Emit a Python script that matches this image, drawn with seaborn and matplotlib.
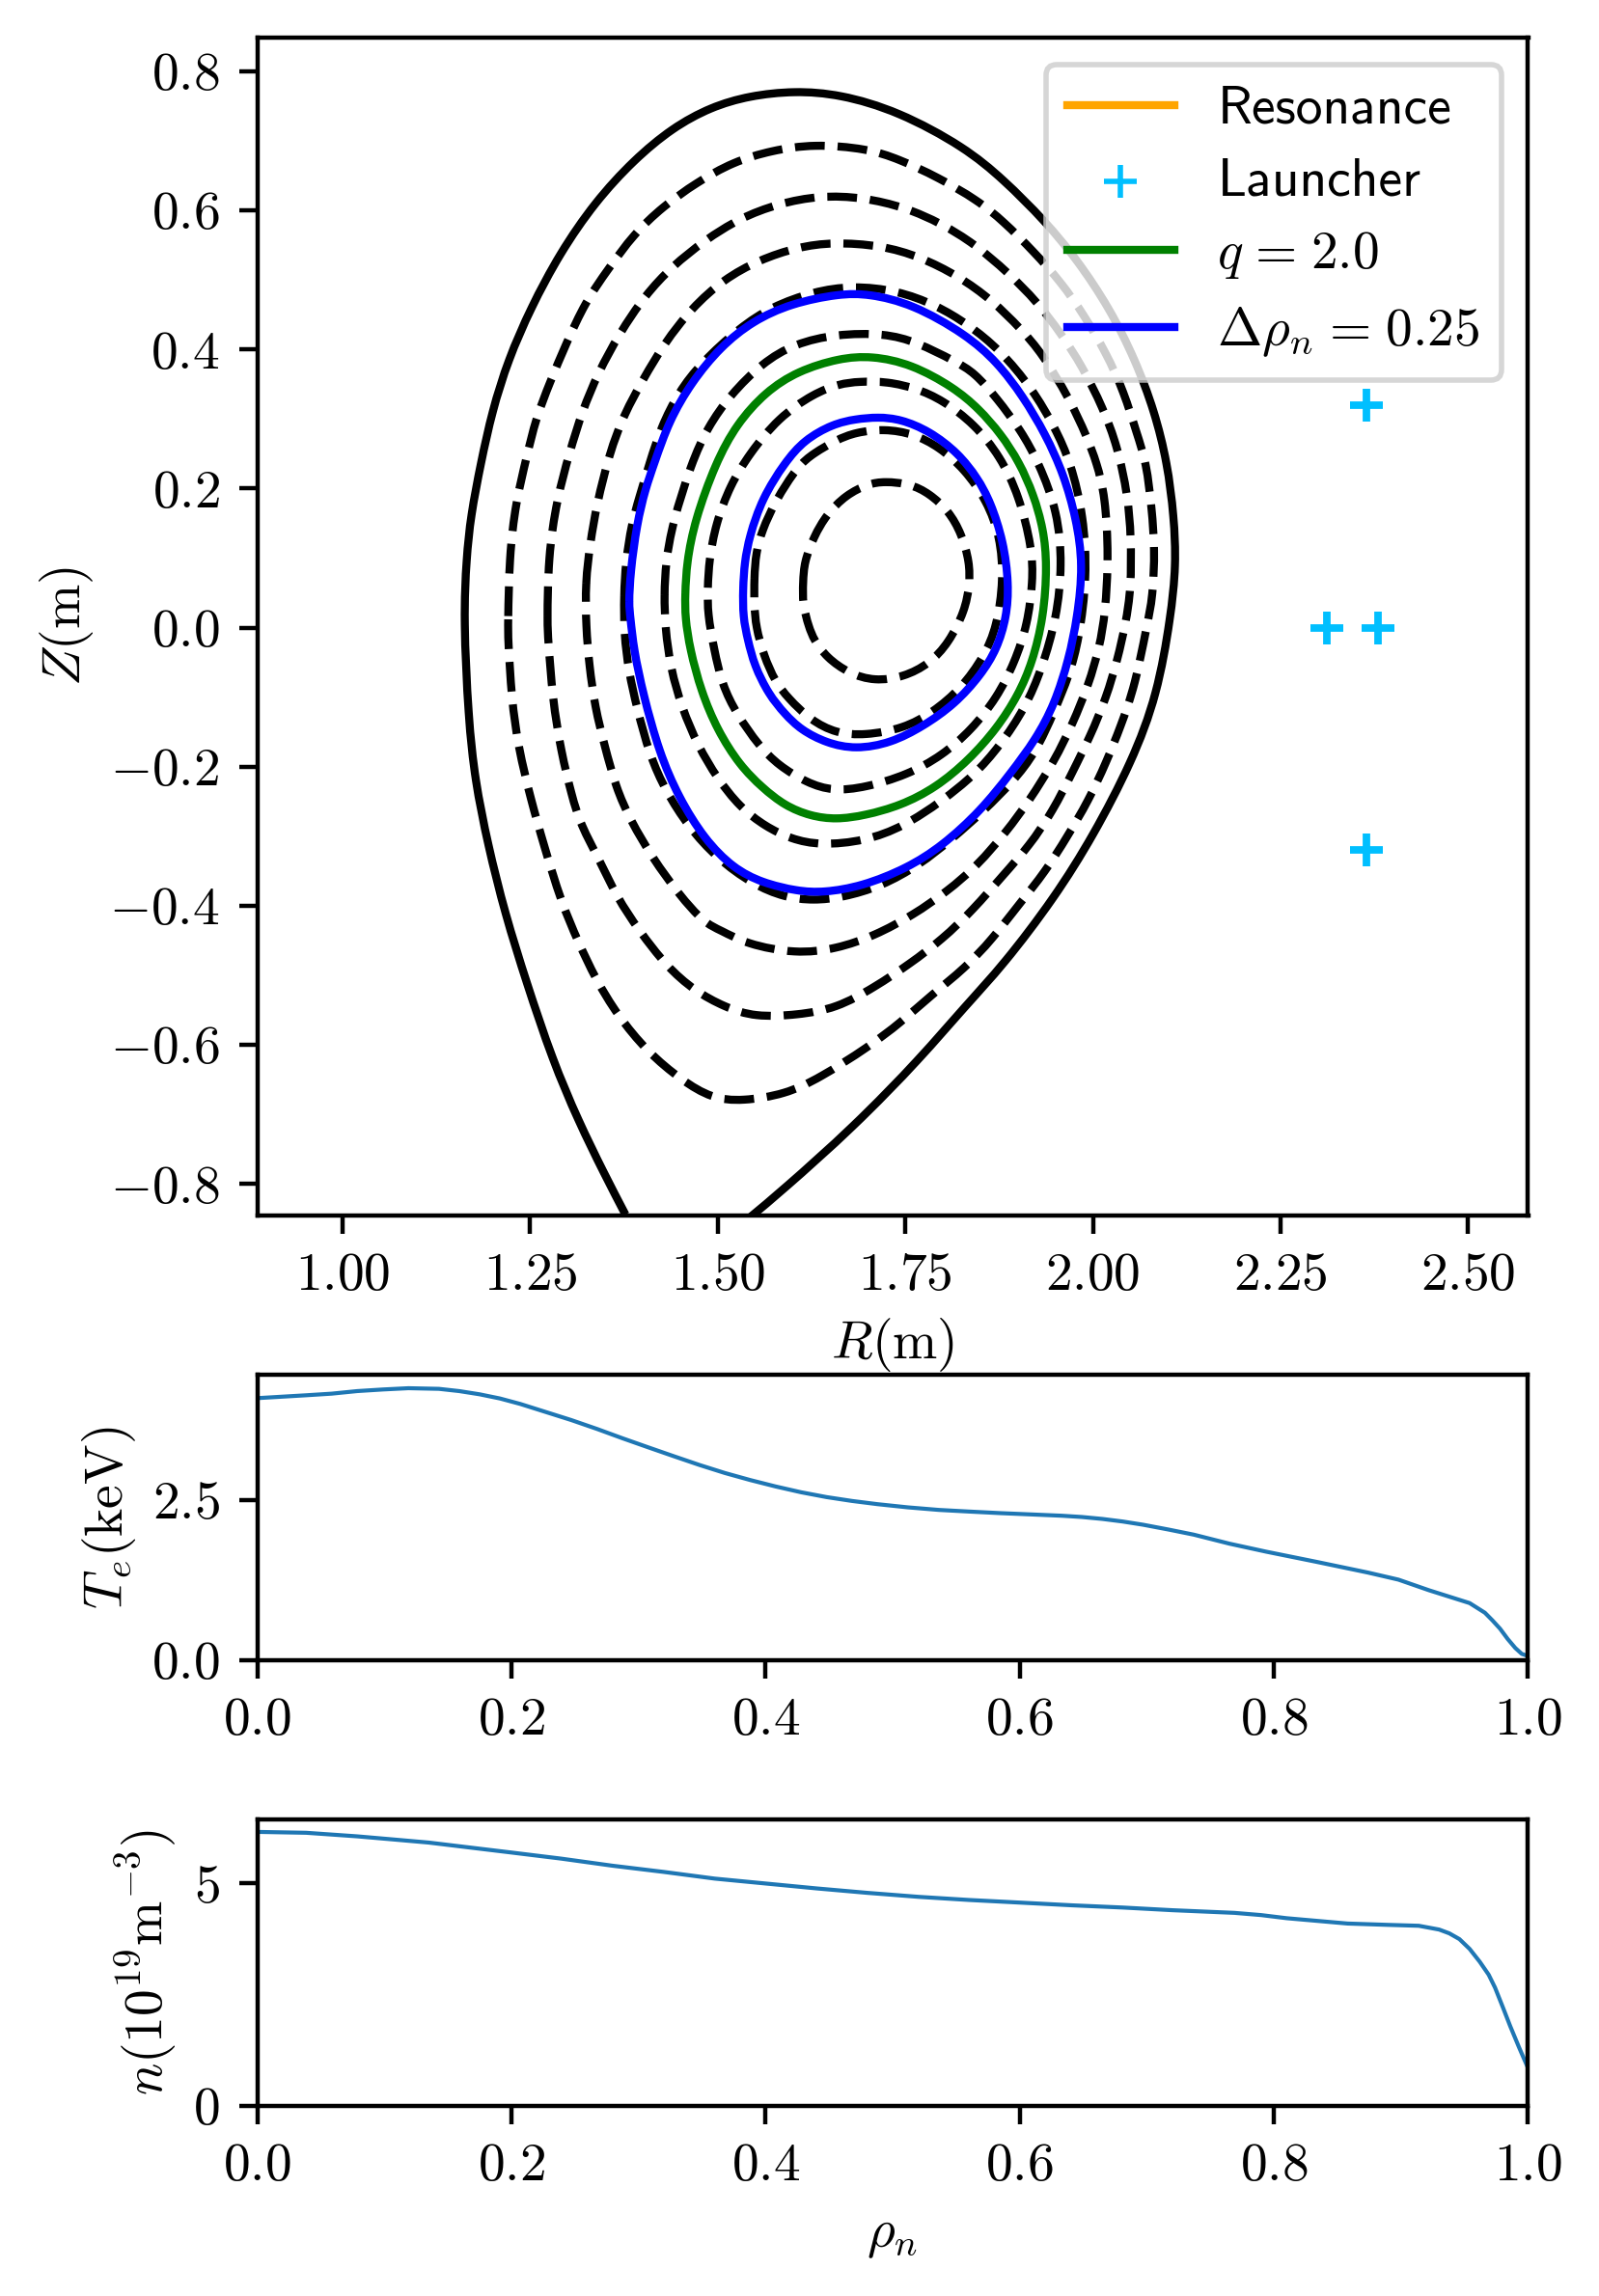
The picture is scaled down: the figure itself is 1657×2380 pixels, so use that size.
import matplotlib
matplotlib.use('Agg')

import matplotlib.pyplot as plt
import seaborn as sns
import numpy as np
from matplotlib.patches import PathPatch
from matplotlib.path import Path

plt.rcParams['font.family'] = ['cmr10', 'DejaVu Sans']
plt.rcParams['mathtext.fontset'] = 'cm'
plt.rcParams['axes.formatter.use_mathtext'] = True
plt.rcParams['font.size'] = 10

# flux surfaces, (R, Z) in metres
separatrix = [(1.404, -0.9), (1.3772, -0.8446), (1.3485, -0.785), (1.314, -0.709), (1.2796, -0.6215), (1.2451, -0.5105),
              (1.2164, -0.4113), (1.1935, -0.312), (1.1762, -0.2186), (1.1676, -0.131), (1.161, 0.015), (1.165, 0.1),
              (1.1705, 0.16), (1.1842, 0.2372), (1.1992, 0.3113), (1.2206, 0.3854), (1.2506, 0.4595), (1.2892, 0.5382),
              (1.3363, 0.6122), (1.3878, 0.6724), (1.4392, 0.7187), (1.4907, 0.7488), (1.5421, 0.765), (1.6021, 0.772),
              (1.6621, 0.7673), (1.74, 0.743), (1.8292, 0.6909), (1.8806, 0.6447), (1.9364, 0.5845), (1.9792, 0.5289),
              (2.0221, 0.4595), (2.0564, 0.3854), (2.0821, 0.3113), (2.0992, 0.2372), (2.108, 0.16), (2.111, 0.09),
              (2.1036, 0.015), (2.086, -0.096), (2.052, -0.193), (2.0, -0.30), (1.949, -0.388), (1.8807, -0.485),
              (1.829, -0.545), (1.771, -0.618), (1.681, -0.718), (1.584, -0.811), (1.5465, -0.8446), (1.485, -0.9)]

surface_1 = [(1.2204, 0.003), (1.222, 0.102), (1.2305, 0.18), (1.2455, 0.2465), (1.2571, 0.2997), (1.2763, 0.353),
             (1.2978, 0.4085), (1.3235, 0.4687), (1.3535, 0.515), (1.3878, 0.5659), (1.4264, 0.6053), (1.4714, 0.64),
             (1.5207, 0.6701), (1.5721, 0.6863), (1.6278, 0.6956), (1.699, 0.689), (1.741, 0.674), (1.793, 0.648),
             (1.8463, 0.6146), (1.8806, 0.5845), (1.9214, 0.5405), (1.9578, 0.4965), (1.9878, 0.4502), (2.0178, 0.3947),
             (2.0414, 0.3391), (2.0585, 0.279), (2.0714, 0.2372), (2.0785, 0.17), (2.0825, 0.114), (2.08, 0.044),
             (2.0715, 0.001), (2.0565, -0.082), (2.037, -0.142), (2.018, -0.193), (1.994, -0.249), (1.966, -0.30),
             (1.9365, -0.351), (1.902, -0.397), (1.8657, -0.448), (1.829, -0.49), (1.786, -0.527), (1.7435, -0.568),
             (1.7007, -0.603), (1.635, -0.648), (1.59, -0.671), (1.532, -0.681), (1.492, -0.677), (1.452, -0.651),
             (1.406, -0.61), (1.366, -0.557), (1.337, -0.505), (1.314, -0.452), (1.291, -0.394), (1.268, -0.312),
             (1.251, -0.248), (1.234, -0.172), (1.225, -0.102), (1.2204, -0.014)]

surface_2 = [(1.2727, 0.003), (1.2738, 0.102), (1.2853, 0.184), (1.3021, 0.2511), (1.3192, 0.3113), (1.3406, 0.3669),
             (1.3685, 0.4224), (1.4028, 0.478), (1.4392, 0.5197), (1.4821, 0.5567), (1.5292, 0.589), (1.5807, 0.6099),
             (1.6364, 0.6215), (1.6929, 0.619), (1.7503, 0.6044), (1.7983, 0.581), (1.8421, 0.5521), (1.8871, 0.5104),
             (1.9256, 0.4687), (1.9578, 0.4224), (1.9857, 0.3761), (2.0135, 0.3159), (2.0328, 0.2604), (2.0465, 0.19),
             (2.0509, 0.1314), (2.0509, 0.0555), (2.0436, 0.006), (2.033, -0.045), (2.018, -0.1), (1.9965, -0.156),
             (1.973, -0.207), (1.947, -0.263), (1.915, -0.314), (1.881, -0.355), (1.84, -0.406), (1.7993, -0.448),
             (1.7564, -0.483), (1.709, -0.517), (1.658, -0.5475), (1.606, -0.557), (1.5494, -0.56), (1.5092, -0.5456),
             (1.469, -0.5222), (1.4317, -0.4872), (1.3944, -0.4346), (1.3657, -0.388), (1.3427, -0.335), (1.3169, -0.283),
             (1.3054, -0.2419), (1.291, -0.178), (1.2796, -0.102), (1.2738, -0.014)]

surface_3 = [(1.3235, 0.066), (1.3299, 0.1215), (1.3385, 0.177), (1.3556, 0.2511), (1.3749, 0.3067), (1.4006, 0.3576),
             (1.4285, 0.4085), (1.4649, 0.4595), (1.5078, 0.5011), (1.555, 0.5289), (1.6064, 0.5474), (1.6536, 0.5544),
             (1.7178, 0.5498), (1.7693, 0.5336), (1.8207, 0.5058), (1.8656, 0.471), (1.9042, 0.4294), (1.9321, 0.3947),
             (1.9685, 0.3298), (1.9921, 0.2743), (2.005, 0.2372), (2.0164, 0.1898), (2.021, 0.1022), (2.0164, 0.0204),
             (2.009, -0.027), (1.9943, -0.082), (1.973, -0.138), (1.949, -0.191), (1.915, -0.249), (1.885, -0.293),
             (1.846, -0.342), (1.806, -0.379), (1.7607, -0.413), (1.709, -0.443), (1.658, -0.462), (1.604, -0.469),
             (1.5379, -0.455), (1.5034, -0.4346), (1.482, -0.425), (1.4478, -0.383), (1.4135, -0.332), (1.3835, -0.277),
             (1.3642, -0.23), (1.3492, -0.17), (1.3363, -0.1146), (1.3286, -0.054), (1.3243, 0.001)]

surface_4 = [(1.3749, 0.0474), (1.3771, 0.0937), (1.385, 0.149), (1.395, 0.1863), (1.4092, 0.2372), (1.4242, 0.2882),
             (1.4478, 0.3391), (1.4778, 0.3808), (1.5292, 0.4317), (1.5721, 0.4618), (1.6278, 0.4835), (1.6793, 0.4919),
             (1.7392, 0.485), (1.7907, 0.4641), (1.8336, 0.4363), (1.8763, 0.3993), (1.9192, 0.3437), (1.9492, 0.2882),
             (1.9706, 0.2372), (1.9877, 0.1606), (1.9923, 0.073), (1.9814, -0.017), (1.9686, -0.068), (1.949, -0.119),
             (1.9236, -0.18), (1.8936, -0.221), (1.855, -0.263), (1.812, -0.304), (1.769, -0.341), (1.718, -0.372),
             (1.666, -0.388), (1.6278, -0.3924), (1.5892, -0.388), (1.5464, -0.369), (1.4992, -0.332), (1.4606, -0.286),
             (1.4306, -0.235), (1.4092, -0.184), (1.392, -0.1146), (1.3813, -0.0637), (1.3749, -0.008)]

surface_5 = [(1.4285, 0.0474), (1.4306, 0.0937), (1.4392, 0.149), (1.4649, 0.2372), (1.4864, 0.2882), (1.5164, 0.3345),
             (1.5592, 0.3808), (1.6021, 0.4085), (1.6579, 0.4224), (1.7221, 0.4234), (1.765, 0.4109), (1.8164, 0.383),
             (1.8421, 0.3669), (1.8721, 0.3298), (1.9042, 0.2835), (1.9278, 0.2372), (1.9533, 0.1664), (1.959, 0.0905),
             (1.952, 0.015), (1.932, -0.059), (1.91, -0.115), (1.876, -0.17), (1.842, -0.212), (1.799, -0.249),
             (1.7478, -0.286), (1.696, -0.307), (1.6364, -0.313), (1.5978, -0.304), (1.5635, -0.286), (1.5292, -0.258),
             (1.4992, -0.2165), (1.4735, -0.17), (1.452, -0.115), (1.4371, -0.059), (1.4298, 0.0)]

surface_6 = [(1.4864, 0.0567), (1.4885, 0.098), (1.4971, 0.149), (1.5164, 0.205), (1.5421, 0.25), (1.5807, 0.302),
             (1.6278, 0.3368), (1.6621, 0.3507), (1.688, 0.354), (1.7264, 0.354), (1.765, 0.344), (1.7993, 0.3275),
             (1.8421, 0.2928), (1.8764, 0.2465), (1.9016, 0.19), (1.919, 0.114), (1.92, 0.067), (1.913, 0.005),
             (1.8957, -0.05), (1.872, -0.101), (1.838, -0.147), (1.799, -0.184), (1.7521, -0.212), (1.696, -0.23),
             (1.6535, -0.235), (1.6192, -0.2234), (1.5807, -0.198), (1.555, -0.17), (1.525, -0.124), (1.5056, -0.082),
             (1.495, -0.031), (1.4864, 0.02)]

surface_7 = [(1.5485, 0.071), (1.5507, 0.1076), (1.559, 0.14), (1.5764, 0.1817), (1.6064, 0.2326), (1.628, 0.251),
             (1.658, 0.27), (1.6835, 0.281), (1.7221, 0.286), (1.7607, 0.279), (1.795, 0.26), (1.829, 0.228),
             (1.859, 0.182), (1.8764, 0.131), (1.881, 0.07), (1.872, 0.001), (1.855, -0.041), (1.825, -0.087),
             (1.7864, -0.122), (1.7478, -0.145), (1.696, -0.155), (1.6578, -0.152), (1.6235, -0.133), (1.5935, -0.101),
             (1.5764, -0.0776), (1.5614, -0.0405), (1.5507, 0.001), (1.5485, 0.0336)]

surface_8 = [(1.6137, 0.066), (1.615, 0.094), (1.628, 0.131), (1.645, 0.163), (1.6707, 0.191), (1.7007, 0.207),
             (1.722, 0.2104), (1.7564, 0.207), (1.782, 0.193), (1.8078, 0.168), (1.825, 0.135), (1.8357, 0.094),
             (1.8357, 0.0613), (1.8293, 0.024), (1.8078, -0.022), (1.782, -0.052), (1.7478, -0.071), (1.709, -0.077),
             (1.675, -0.066), (1.645, -0.043), (1.628, -0.0174), (1.6214, 0.001), (1.6128, 0.0336)]

q_surface = [(1.4564, 0.0474), (1.4585, 0.0937), (1.4692, 0.154), (1.4971, 0.2372), (1.525, 0.2928), (1.5635, 0.3391),
             (1.6064, 0.3692), (1.6621, 0.3877), (1.705, 0.391), (1.7578, 0.3793), (1.8146, 0.3455), (1.848, 0.3149),
             (1.8773, 0.2787), (1.9022, 0.2375), (1.9209, 0.1914), (1.9341, 0.142), (1.939, 0.09), (1.9343, 0.015),
             (1.9193, -0.05), (1.9005, -0.097), (1.872, -0.145), (1.8345, -0.1905), (1.7907, -0.23), (1.7436, -0.256),
             (1.696, -0.27), (1.6578, -0.276), (1.6235, -0.271), (1.5892, -0.256), (1.5592, -0.23), (1.5292, -0.198),
             (1.4992, -0.147), (1.4778, -0.0915), (1.4628, -0.031), (1.4564, 0.015)]

outer_width = [(1.3813, 0.0336), (1.3835, 0.08), (1.392, 0.149), (1.4035, 0.2), (1.4156, 0.2372), (1.4349, 0.2974),
               (1.4649, 0.353), (1.5035, 0.4039), (1.5464, 0.441), (1.5978, 0.4664), (1.6621, 0.4803), (1.7007, 0.4803),
               (1.759, 0.4658), (1.8304, 0.422), (1.8725, 0.382), (1.9069, 0.3325), (1.9366, 0.2787), (1.9612, 0.2204),
               (1.9778, 0.1569), (1.987, 0.09), (1.9793, 0.015), (1.968, -0.045), (1.949, -0.11), (1.9236, -0.161),
               (1.8905, -0.209), (1.8507, -0.263), (1.799, -0.314), (1.7521, -0.346), (1.692, -0.372), (1.6407, -0.381),
               (1.6064, -0.379), (1.5592, -0.367), (1.5206, -0.346), (1.482, -0.304), (1.4478, -0.244), (1.422, -0.18),
               (1.4006, -0.096), (1.3878, -0.031), (1.3835, 0.015)]

inner_width = [(1.5335, 0.0567), (1.5356, 0.0937), (1.542, 0.131), (1.559, 0.186), (1.5892, 0.2373), (1.615, 0.27),
               (1.6535, 0.293), (1.6835, 0.3), (1.7135, 0.303), (1.7435, 0.3), (1.782, 0.283), (1.8207, 0.251),
               (1.8462, 0.2152), (1.8635, 0.181), (1.8809, 0.124), (1.888, 0.0625), (1.885, 0.015), (1.872, -0.031),
               (1.8507, -0.068), (1.816, -0.11), (1.7736, -0.142), (1.7307, -0.166), (1.6835, -0.175), (1.645, -0.166),
               (1.6107, -0.147), (1.5892, -0.124), (1.5678, -0.096), (1.5485, -0.054), (1.54, -0.0174), (1.5335, 0.015)]

launcher_R = [2.364, 2.312, 2.380, 2.364]
launcher_Z = [0.32, 0.0, 0.0, -0.32]

# radial profiles
rho_Te = [0.0, 0.0386, 0.0586, 0.0787, 0.0988, 0.119, 0.143, 0.159, 0.175, 0.191, 0.207, 0.227, 0.247, 0.2675,
          0.2875, 0.3076, 0.328, 0.348, 0.368, 0.388, 0.408, 0.428, 0.448, 0.468, 0.488, 0.512, 0.5365, 0.56,
          0.585, 0.609, 0.633, 0.649, 0.665, 0.681, 0.697, 0.717, 0.737, 0.765, 0.794, 0.834, 0.874, 0.898,
          0.922, 0.938, 0.954, 0.966, 0.972, 0.978, 0.984, 0.99, 0.995, 1.0]
Te = [4.08, 4.125, 4.15, 4.19, 4.215, 4.235, 4.225, 4.19, 4.14, 4.075, 3.99, 3.865, 3.74, 3.6,
      3.455, 3.315, 3.175, 3.04, 2.915, 2.805, 2.705, 2.615, 2.54, 2.48, 2.43, 2.38, 2.34, 2.315,
      2.29, 2.27, 2.25, 2.23, 2.2, 2.16, 2.11, 2.035, 1.955, 1.815, 1.69, 1.53, 1.365, 1.255,
      1.09, 0.99, 0.89, 0.74, 0.62, 0.49, 0.33, 0.19, 0.10, 0.065]

rho_n = [0.0, 0.0386, 0.0787, 0.107, 0.135, 0.167, 0.199, 0.239, 0.2795, 0.32, 0.36, 0.4, 0.44, 0.48, 0.5205,
         0.56, 0.6008, 0.641, 0.681, 0.72, 0.769, 0.79, 0.81, 0.834, 0.858, 0.89, 0.914, 0.93, 0.938, 0.946,
         0.954, 0.962, 0.969, 0.974, 0.98, 0.986, 0.993, 1.0]
ne = [6.16, 6.14, 6.06, 5.99, 5.92, 5.81, 5.70, 5.56, 5.40, 5.26, 5.11, 5.0, 4.89, 4.79, 4.70,
      4.63, 4.57, 4.51, 4.46, 4.40, 4.34, 4.29, 4.22, 4.16, 4.10, 4.07, 4.05, 3.965, 3.88, 3.75,
      3.53, 3.24, 2.95, 2.66, 2.23, 1.79, 1.31, 0.85]


def draw_surface(ax, points, closed=True, **kw):
    # the read points are the control points of a cubic curve, reading noise doesn't show as lumps
    pts = np.array(points)
    if closed:
        prev, cur, nxt = np.roll(pts, 1, axis=0), pts, np.roll(pts, -1, axis=0)
    else:
        prev, cur, nxt = pts[:-2], pts[1:-1], pts[2:]
    knots = (prev + 4 * cur + nxt) / 6
    c1 = (2 * cur + nxt) / 3
    c2 = (cur + 2 * nxt) / 3
    verts = [knots[0]]
    codes = [Path.MOVETO]
    n = len(knots) if closed else len(knots) - 1
    for i in range(n):
        verts += [c1[i], c2[i], knots[(i + 1) % len(knots)]]
        codes += [Path.CURVE4, Path.CURVE4, Path.CURVE4]
    ax.add_patch(PathPatch(Path(verts, codes), fill=False, joinstyle="round", **kw))


W, H = 1658, 2380
DPI = 400
fig = plt.figure(figsize=(W / DPI, H / DPI), dpi=DPI)


def px_axes(left, right, top, bottom):
    return fig.add_axes([left / W, 1 - bottom / H, (right - left) / W, (bottom - top) / H])


ax = px_axes(266.5, 1583.5, 39, 1259.5)
ax_te = px_axes(266.5, 1583.5, 1425, 1721)
ax_n = px_axes(266.5, 1583.5, 1886, 2183)

# Equilibrium cross section
draw_surface(ax, separatrix, closed=False, edgecolor="black", linewidth=1.5)
for surf in [surface_1, surface_2, surface_3, surface_4, surface_5, surface_6, surface_7, surface_8]:
    draw_surface(ax, surf, edgecolor="black", linewidth=1.5, linestyle="--")

ax.plot([], [], color="orange", linewidth=1.5, label="Resonance")
sns.scatterplot(x=launcher_R, y=launcher_Z, marker="+", s=36, color="deepskyblue", linewidth=1.4,
                label="Launcher", ax=ax)
draw_surface(ax, q_surface, edgecolor="green", linewidth=1.5)
ax.plot([], [], color="green", linewidth=1.5, label=r"$q\hspace{0.1}=\hspace{0.1}2.0$")
draw_surface(ax, outer_width, edgecolor="blue", linewidth=1.5)
draw_surface(ax, inner_width, edgecolor="blue", linewidth=1.5)
ax.plot([], [], color="blue", linewidth=1.5, label=r"$\Delta\rho_n\hspace{0.1}=\hspace{0.1}0.25$")

ax.set_xlim(0.886, 2.58)
ax.set_ylim(-0.8446, 0.8485)
ax.set_xlabel(r"$R(\mathrm{m})$", labelpad=2.9)
ax.set_ylabel(r"$Z(\mathrm{m})$", labelpad=2.6)
leg = ax.legend(loc="upper right", labelspacing=0.445)
leg.legend_handles[1].set_linewidths([1.0])
for txt in leg.get_texts()[:2]:
    txt.set_family("cmss10")

# Temperature and density profiles
sns.lineplot(x=rho_Te, y=Te, sort=False, estimator=None, linewidth=0.75, color="C0", ax=ax_te)
ax_te.set_xlim(0, 1)
ax_te.set_ylim(0, 4.445)
ax_te.set_yticks([0, 2.5])
ax_te.set_ylabel(r"$T_e(\mathrm{keV})$", labelpad=2.6)

sns.lineplot(x=rho_n, y=ne, sort=False, estimator=None, linewidth=0.75, color="C0", ax=ax_n)
ax_n.set_xlim(0, 1)
ax_n.set_ylim(0, 6.44)
ax_n.set_yticks([0, 5])
ax_n.set_ylabel(r"$n(10^{19}\mathrm{m}^{-3})$", labelpad=2.6)
ax_n.set_xlabel(r"$\rho_n$")

plt.savefig("out.png", dpi=DPI)
plt.close(fig)
